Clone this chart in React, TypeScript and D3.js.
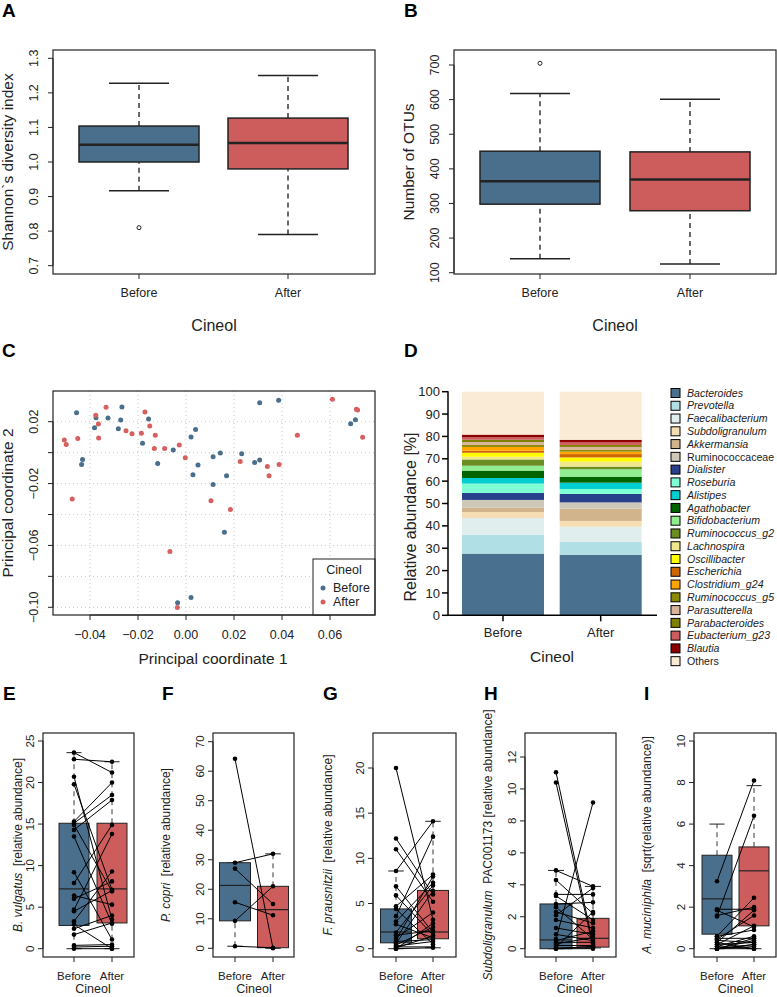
import React, { useEffect, useRef } from 'react';
import * as d3 from 'd3';

const FONT = 'Liberation Sans, Arial, Helvetica, sans-serif';
const BLUE = '#4a6f8d';
const RED = '#cd5c5c';
const INK = '#222';

const groups = ['Before', 'After'];

// A - Shannon diversity (whisker low, q1, median, q3, whisker high)
const shannonBefore = [0.917, 1.0, 1.05, 1.104, 1.228];
const shannonAfter = [0.79, 0.98, 1.055, 1.127, 1.25];
const shannonOutliers = [0.81];
const shannonTicks = [0.7, 0.8, 0.9, 1.0, 1.1, 1.2, 1.3];

// B - Number of OTUs
const otuBefore = [140, 298, 364, 451, 618];
const otuAfter = [125, 279, 369, 449, 601];
const otuOutliers = [705];
const otuTicks = [100, 200, 300, 400, 500, 600, 700];

// C - PCoA
const pcoBefore = [
  [-0.0456, 0.0258], [-0.0431, -0.0044], [-0.0435, -0.0076], [-0.0375, 0.0226], [-0.0381, 0.0161],
  [-0.0325, 0.0224], [-0.0267, 0.0295], [-0.0272, 0.0211], [-0.0282, 0.0155], [-0.0156, 0.0217],
  [-0.0181, 0.006], [-0.0118, -0.007], [-0.0053, 0.0017], [0.0021, 0.0101], [0.004, 0.015],
  [0.005, -0.008], [0.0029, -0.0143], [0.0113, -0.0027], [0.0143, -0.0003], [0.0113, -0.0206],
  [0.0169, -0.0149], [0.016, -0.0514], [0.0232, -0.0007], [0.0286, -0.0063], [0.0307, -0.0048],
  [0.0307, 0.0323], [0.0386, 0.0338], [0.0686, 0.0187], [0.0706, 0.0213], [-0.0035, -0.0971],
  [0.0021, -0.0937],
];
const pcoAfter = [
  [-0.0507, 0.0081], [-0.0499, 0.0053], [-0.0451, 0.0092], [-0.0474, -0.03], [-0.0376, 0.0241],
  [-0.0365, 0.0185], [-0.0364, 0.0094], [-0.0333, 0.0293], [-0.025, 0.0142], [-0.0225, 0.0122],
  [-0.0186, 0.0125], [-0.0171, 0.0263], [-0.0151, 0.0172], [-0.0128, 0.0112], [-0.0132, 0.0027],
  [-0.0089, 0.0027], [-0.0028, 0.0049], [-0.0003, -0.0033], [-0.0067, -0.0639], [-0.0036, -0.1001],
  [0.0104, -0.0311], [0.0185, -0.0367], [0.0226, -0.0057], [0.0339, -0.0089], [0.0346, -0.0149],
  [0.0388, -0.0076], [0.0464, 0.0112], [0.061, 0.0345], [0.071, 0.028], [0.0715, 0.0275],
  [0.0736, 0.0099],
];
const pcoXTicks = [-0.04, -0.02, 0, 0.02, 0.04, 0.06];
const pcoYTicks = [0.02, 0, -0.02, -0.04, -0.06, -0.08, -0.1];
const pcoYLabels = [0.02, -0.02, -0.06, -0.1];

// D - genus composition
const genera = [
  'Bacteroides', 'Prevotella', 'Faecalibacterium', 'Subdoligranulum', 'Akkermansia',
  'Ruminococcaceae', 'Dialister', 'Roseburia', 'Alistipes', 'Agathobacter', 'Bifidobacterium',
  'Ruminococcus_g2', 'Lachnospira', 'Oscillibacter', 'Escherichia', 'Clostridium_g24',
  'Ruminococcus_g5', 'Parasutterella', 'Parabacteroides', 'Eubacterium_g23', 'Blautia', 'Others',
];
const genusColors = [
  '#4a7090', '#b0e0e6', '#e0eeee', '#f5deb3', '#d2b48c', '#cdc8b8', '#27408b', '#7fffd4',
  '#00ced1', '#006400', '#90ee90', '#6b8e23', '#f0e68c', '#ffff00', '#cd6600', '#ffa500',
  '#8b8b00', '#d8b49c', '#808000', '#cd5c5c', '#8b0000', '#faebd7',
];
const abundBefore = [27.6, 8.3, 7.6, 2.7, 1.9, 3.5, 3.1, 4.2, 2.5, 3.3, 2.2, 2.8, 1.2, 1.8, 0.9, 1.7, 0.9, 1.3, 1.0, 1.1, 1.2, 19.2];
const abundAfter = [27.1, 5.7, 6.8, 2.6, 5.5, 2.8, 3.8, 2.2, 2.8, 2.7, 3.3, 1.2, 2.2, 1.9, 1.5, 1.1, 0.9, 1.2, 0.9, 1.3, 1.0, 21.5];
const abundTicks = [0, 10, 20, 30, 40, 50, 60, 70, 80, 90, 100];

// E-I paired relative abundances (index i = same subject)
const vulgatusBefore = [23.6, 22.8, 20.7, 19.8, 15.3, 15.1, 14.9, 14.3, 13.5, 9.2, 7.9, 6.4, 6.0, 4.7, 4.5, 3.3, 2.9, 2.4, 1.7, 0.4, 0.2, 0.0];
const vulgatusAfter = [21.2, 22.5, 3.5, 7.1, 20.0, 18.5, 6.9, 17.9, 3.0, 1.1, 14.9, 5.3, 8.1, 13.8, 7.0, 9.3, 0.0, 4.0, 3.1, 0.5, 0.3, 0.0];
const vulgatusStatsBefore = [0, 2.8, 7.2, 15.1, 23.6];
const vulgatusStatsAfter = [0, 3.1, 7.2, 15.1, 22.5];

const copriBefore = [64.2, 29.0, 27.0, 15.6, 9.3, 0.7];
const copriAfter = [0.0, 32.0, 15.0, 11.2, 21.0, 0.2];
const copriStatsBefore = [0.7, 9.3, 21.3, 29.0, 29.0];
const copriStatsAfter = [0.0, 0.2, 13.1, 21.0, 32.0];

const prausBefore = [20.0, 12.2, 11.0, 8.6, 6.9, 5.9, 4.7, 4.4, 3.6, 3.0, 2.7, 1.8, 1.5, 1.2, 1.0, 0.8, 0.6, 0.4, 0.3, 0.2, 0.1, 0.0, 0.0];
const prausAfter = [3.2, 6.0, 5.2, 14.1, 1.8, 1.5, 8.2, 0.5, 12.4, 7.3, 1.2, 7.0, 2.0, 4.0, 8.0, 1.0, 6.4, 2.4, 0.8, 0.2, 1.4, 0.1, 2.8];
const prausStatsBefore = [0, 0.65, 1.85, 4.4, 8.6];
const prausStatsAfter = [0.1, 1.1, 1.85, 6.45, 14.1];

const subdoBefore = [11.05, 10.4, 4.9, 4.3, 3.4, 3.3, 2.8, 2.6, 2.3, 2.1, 1.8, 1.3, 0.9, 0.6, 0.5, 0.4, 0.3, 0.2, 0.1, 0.05, 0, 0];
const subdoAfter = [0.3, 0.1, 3.9, 2.2, 3.4, 1.8, 2.9, 0.6, 1.6, 3.8, 1.3, 0.9, 0.5, 9.15, 1.1, 0.4, 0.7, 0.2, 2.3, 0.05, 0.15, 0];
const subdoStatsBefore = [0, 0, 0.55, 2.8, 4.9];
const subdoStatsAfter = [0.05, 0.1, 0.65, 1.9, 3.9];

const mucinBefore = [3.25, 1.9, 1.85, 1.6, 1.55, 0.6, 0.5, 0.45, 0.4, 0.3, 0.3, 0.2, 0.1, 0, 0, 0, 0, 0.6, 0.2, 0.1, 0, 0];
const mucinAfter = [8.1, 1.9, 1.05, 2.0, 6.4, 2.45, 0.5, 1.6, 0.3, 0, 1.85, 1.1, 0.6, 0.2, 0.4, 0.1, 0, 0.9, 0.3, 0, 0.5, 0.2];
const mucinStatsBefore = [0, 0.7, 2.4, 4.5, 6.0];
const mucinStatsAfter = [0, 1.1, 3.75, 4.9, 7.85];

// helpers
const addText = (g, x, y, s, size, anchor = 'middle', rotate = false) =>
  g.append('text')
    .attr('transform', rotate ? `translate(${x},${y}) rotate(-90)` : `translate(${x},${y})`)
    .attr('dy', '0.35em')
    .attr('text-anchor', anchor)
    .attr('font-family', FONT)
    .attr('font-size', size)
    .attr('fill', INK)
    .text(s);

const letter = (g, x, y, s) =>
  addText(g, x, y, s, 19, 'start').attr('font-weight', 'bold').attr('fill', '#000');

const frame = (g, x0, x1, y0, y1) =>
  g.append('rect')
    .attr('x', x0).attr('y', y0)
    .attr('width', x1 - x0).attr('height', y1 - y0)
    .attr('fill', 'none').attr('stroke', INK).attr('stroke-width', 1.2);

// R style left axis, labels parallel to the axis
function rYAxis(g, y, ticks, labels, x0, off, size, fmt) {
  g.append('line')
    .attr('x1', x0).attr('x2', x0)
    .attr('y1', y(d3.min(ticks))).attr('y2', y(d3.max(ticks)))
    .attr('stroke', INK);
  ticks.forEach(t => {
    g.append('line').attr('x1', x0).attr('x2', x0 - 5)
      .attr('y1', y(t)).attr('y2', y(t)).attr('stroke', INK);
  });
  labels.forEach(t => addText(g, x0 - off, y(t), fmt(t), size, 'middle', true));
}

function rXAxis(g, x, y1, labelY, size) {
  groups.forEach(k => {
    g.append('line').attr('x1', x(k)).attr('x2', x(k))
      .attr('y1', y1).attr('y2', y1 + 5).attr('stroke', INK);
    addText(g, x(k), labelY, k, size);
  });
}

function rBox(g, cx, w, s, y, fill, lw, mw) {
  const dash = '5,4';
  g.append('line').attr('x1', cx).attr('x2', cx).attr('y1', y(s[3])).attr('y2', y(s[4]))
    .attr('stroke', INK).attr('stroke-width', lw * 0.9).attr('stroke-dasharray', dash);
  g.append('line').attr('x1', cx).attr('x2', cx).attr('y1', y(s[0])).attr('y2', y(s[1]))
    .attr('stroke', INK).attr('stroke-width', lw * 0.9).attr('stroke-dasharray', dash);
  [s[0], s[4]].forEach(v => {
    g.append('line').attr('x1', cx - w / 4).attr('x2', cx + w / 4)
      .attr('y1', y(v)).attr('y2', y(v)).attr('stroke', INK).attr('stroke-width', lw);
  });
  g.append('rect')
    .attr('x', cx - w / 2).attr('y', y(s[3]))
    .attr('width', w).attr('height', y(s[1]) - y(s[3]))
    .attr('fill', fill).attr('stroke', INK).attr('stroke-width', lw);
  g.append('line').attr('x1', cx - w / 2).attr('x2', cx + w / 2)
    .attr('y1', y(s[2])).attr('y2', y(s[2])).attr('stroke', INK).attr('stroke-width', mw);
}

const f1 = d3.format('.1f');
const fInt = d3.format('d');
const fPco = (v) => (v === 0 ? '0.00' : d3.format('.2f')(v));

export default function App() {
  const ref = useRef(null);

  useEffect(() => {
    document.body.style.margin = '0';
    const svg = d3.select(ref.current);
    svg.selectAll('*').remove();
    const g = svg.append('g');

    // ---------- A ----------
    letter(g, 2, 10, 'A');
    const yA = d3.scaleLinear().domain([0.7, 1.3]).range([265.7, 58.3]);
    const xA = d3.scalePoint().domain(groups).range([139, 288]);
    rYAxis(g, yA, shannonTicks, shannonTicks, 53, 19, 12.5, f1);
    rXAxis(g, xA, 274, 293, 12.5);
    rBox(g, xA('Before'), 120, shannonBefore, yA, BLUE, 1.5, 2.5);
    rBox(g, xA('After'), 120, shannonAfter, yA, RED, 1.5, 2.5);
    shannonOutliers.forEach(v => g.append('circle').attr('cx', xA('Before')).attr('cy', yA(v))
      .attr('r', 2).attr('fill', 'none').attr('stroke', INK));
    frame(g, 53, 375, 50, 274);
    addText(g, 8, 162, 'Shannon`s diversity index', 15.5, 'middle', true);
    addText(g, 214, 325, 'Cineol', 16);

    // ---------- B ----------
    letter(g, 404, 10, 'B');
    const yB = d3.scaleLinear().domain([100, 700]).range([272.7, 65]);
    const xB = d3.scalePoint().domain(groups).range([540, 690]);
    rYAxis(g, yB, otuTicks, otuTicks, 454, 19, 12.5, fInt);
    rXAxis(g, xB, 274, 293, 12.5);
    rBox(g, xB('Before'), 120, otuBefore, yB, BLUE, 1.5, 2.5);
    rBox(g, xB('After'), 120, otuAfter, yB, RED, 1.5, 2.5);
    otuOutliers.forEach(v => g.append('circle').attr('cx', xB('Before')).attr('cy', yB(v))
      .attr('r', 2).attr('fill', 'none').attr('stroke', INK));
    frame(g, 454, 776, 50, 274);
    addText(g, 409, 162, 'Number of OTUs', 15.5, 'middle', true);
    addText(g, 615, 325, 'Cineol', 16);

    // ---------- C ----------
    letter(g, 2, 350, 'C');
    const xC = d3.scaleLinear().domain([-0.04, 0.06]).range([90, 330]);
    const yC = d3.scaleLinear().domain([-0.1, 0.02]).range([607.3, 421.7]);
    const grid = g.append('g');
    pcoXTicks.forEach(t => grid.append('line').attr('x1', xC(t)).attr('x2', xC(t))
      .attr('y1', 391).attr('y2', 615).attr('stroke', '#c8c8c8').attr('stroke-dasharray', '1,3'));
    pcoYTicks.forEach(t => grid.append('line').attr('x1', 53).attr('x2', 375)
      .attr('y1', yC(t)).attr('y2', yC(t)).attr('stroke', '#c8c8c8').attr('stroke-dasharray', '1,3'));
    rYAxis(g, yC, pcoYTicks, pcoYLabels, 53, 19, 12.5, fPco);
    g.append('line').attr('x1', xC(-0.04)).attr('x2', xC(0.06)).attr('y1', 615).attr('y2', 615).attr('stroke', INK);
    pcoXTicks.forEach(t => {
      g.append('line').attr('x1', xC(t)).attr('x2', xC(t)).attr('y1', 615).attr('y2', 620).attr('stroke', INK);
      addText(g, xC(t), 635, fPco(t), 12.5);
    });
    g.append('g').selectAll('circle').data(pcoBefore).join('circle')
      .attr('cx', d => xC(d[0])).attr('cy', d => yC(d[1])).attr('r', 2.5).attr('fill', BLUE);
    g.append('g').selectAll('circle').data(pcoAfter).join('circle')
      .attr('cx', d => xC(d[0])).attr('cy', d => yC(d[1])).attr('r', 2.5).attr('fill', '#d75f5f');
    g.append('rect').attr('x', 313).attr('y', 559).attr('width', 62).attr('height', 56)
      .attr('fill', '#fff').attr('stroke', INK);
    addText(g, 344, 570, 'Cineol', 12.5);
    [['Before', BLUE], ['After', '#d75f5f']].forEach(([k, c], i) => {
      g.append('circle').attr('cx', 323).attr('cy', 588 + i * 14).attr('r', 2.5).attr('fill', c);
      addText(g, 333, 588 + i * 14, k, 12.5, 'start');
    });
    frame(g, 53, 375, 391, 615);
    addText(g, 8, 503, 'Principal coordinate 2', 15.5, 'middle', true);
    addText(g, 213, 659, 'Principal coordinate 1', 15.5);

    // ---------- D ----------
    letter(g, 404, 350, 'D');
    const yD = d3.scaleLinear().domain([0, 100]).range([615.3, 391.7]);
    const xD = d3.scalePoint().domain(groups).range([503, 600.7]);
    const table = groups.map((k, i) => {
      const row = { group: k };
      genera.forEach((n, j) => { row[n] = (i === 0 ? abundBefore : abundAfter)[j]; });
      return row;
    });
    const stacked = d3.stack().keys(genera)(table);
    stacked.forEach((layer, j) => {
      g.append('g').selectAll('rect').data(layer).join('rect')
        .attr('x', d => xD(d.data.group) - 41)
        .attr('width', 82)
        .attr('y', d => yD(d[1]))
        .attr('height', d => yD(d[0]) - yD(d[1]))
        .attr('fill', genusColors[j]);
    });
    g.append('line').attr('x1', 448).attr('x2', 448).attr('y1', yD(100) - 0.5).attr('y2', yD(0) + 0.7)
      .attr('stroke', '#000').attr('stroke-width', 1.5);
    abundTicks.forEach(t => {
      g.append('line').attr('x1', 442).attr('x2', 448).attr('y1', yD(t)).attr('y2', yD(t))
        .attr('stroke', '#000').attr('stroke-width', 1.5);
      addText(g, 440, yD(t), String(t), 13, 'end');
    });
    g.append('line').attr('x1', 448).attr('x2', 657).attr('y1', yD(0)).attr('y2', yD(0))
      .attr('stroke', '#000').attr('stroke-width', 1.5);
    groups.forEach(k => {
      g.append('line').attr('x1', xD(k)).attr('x2', xD(k)).attr('y1', yD(0)).attr('y2', yD(0) + 6)
        .attr('stroke', '#000').attr('stroke-width', 1.5);
      addText(g, xD(k), 632, k, 13);
    });
    addText(g, 410, 517, 'Relative abundance [%]', 16, 'middle', true);
    addText(g, 552, 657, 'Cineol', 15.5);
    genera.forEach((n, j) => {
      const yy = 393 + j * 12.77;
      g.append('rect').attr('x', 671).attr('y', yy - 4.5).attr('width', 9).attr('height', 9)
        .attr('fill', genusColors[j]).attr('stroke', '#000').attr('stroke-width', 1);
      const t = addText(g, 687, yy, n, 10.6, 'start');
      if (n !== 'Ruminococcaceae' && n !== 'Others') t.attr('font-style', 'italic');
    });

    // ---------- E - I ----------
    const panels = [
      { id: 'E', lx: 3, x0: 43, x1: 134, cx: [74, 112], bw: 30, dom: [0, 25], rng: [948.7, 741],
        ticks: d3.range(0, 26, 5), sb: vulgatusStatsBefore, sa: vulgatusStatsAfter,
        pb: vulgatusBefore, pa: vulgatusAfter, it: 'B. vulgatus', rest: '  [relative abundance]', labX: 18 },
      { id: 'F', lx: 162, x0: 213, x1: 294, cx: [235, 273], bw: 31, dom: [0, 70], rng: [948.3, 741.7],
        ticks: d3.range(0, 71, 10), sb: copriStatsBefore, sa: copriStatsAfter,
        pb: copriBefore, pa: copriAfter, it: 'P. copri', rest: '  [relative abundance]', labX: 166 },
      { id: 'G', lx: 323, x0: 373, x1: 456, cx: [396, 433], bw: 31, dom: [0, 20], rng: [948.7, 768],
        ticks: d3.range(0, 21, 5), sb: prausStatsBefore, sa: prausStatsAfter,
        pb: prausBefore, pa: prausAfter, it: 'F. prausnitzii', rest: '  [relative abundance]', labX: 328 },
      { id: 'H', lx: 484, x0: 525, x1: 616, cx: [556, 593], bw: 32, dom: [0, 12], rng: [948.7, 757],
        ticks: d3.range(0, 13, 2), sb: subdoStatsBefore, sa: subdoStatsAfter,
        pb: subdoBefore, pa: subdoAfter, it: 'Subdoligranulum', rest: '  PAC001173 [relative abundance]', labX: 488 },
      { id: 'I', lx: 644, x0: 694, x1: 776, cx: [717, 754], bw: 30, dom: [0, 10], rng: [948.7, 741],
        ticks: d3.range(0, 11, 2), sb: mucinStatsBefore, sa: mucinStatsAfter,
        pb: mucinBefore, pa: mucinAfter, it: 'A. muciniphila', rest: '  [sqrt(relative abundance)]', labX: 647 },
    ];
    panels.forEach(p => {
      letter(g, p.lx, 693, p.id);
      const y = d3.scaleLinear().domain(p.dom).range(p.rng);
      const x = d3.scalePoint().domain(groups).range(p.cx);
      rYAxis(g, y, p.ticks, p.ticks, p.x0, 13, 11.5, fInt);
      rXAxis(g, x, 957, 976, 11.5);
      rBox(g, x('Before'), p.bw, p.sb, y, BLUE, 1, 1.2);
      rBox(g, x('After'), p.bw, p.sa, y, RED, 1, 1.2);
      const pg = g.append('g');
      p.pb.forEach((v, i) => {
        pg.append('line').attr('x1', x('Before')).attr('x2', x('After'))
          .attr('y1', y(v)).attr('y2', y(p.pa[i])).attr('stroke', '#000').attr('stroke-width', 1);
      });
      pg.selectAll('circle.b').data(p.pb).join('circle').attr('class', 'b')
        .attr('cx', x('Before')).attr('cy', d => y(d)).attr('r', 2.3).attr('fill', '#000');
      pg.selectAll('circle.a').data(p.pa).join('circle').attr('class', 'a')
        .attr('cx', x('After')).attr('cy', d => y(d)).attr('r', 2.3).attr('fill', '#000');
      frame(g, p.x0, p.x1, 733, 957);
      const t = g.append('text')
        .attr('transform', `translate(${p.labX},845) rotate(-90)`)
        .attr('dy', '0.35em').attr('text-anchor', 'middle')
        .attr('font-family', FONT).attr('font-size', 12).attr('fill', INK);
      t.append('tspan').attr('font-style', 'italic').text(p.it);
      t.append('tspan').attr('xml:space', 'preserve').text(p.rest);
      addText(g, (p.cx[0] + p.cx[1]) / 2, 989, 'Cineol', 12.5);
    });
  }, []);

  return <svg ref={ref} width={777} height={997} style={{ display: 'block', background: '#fff' }} />;
}
